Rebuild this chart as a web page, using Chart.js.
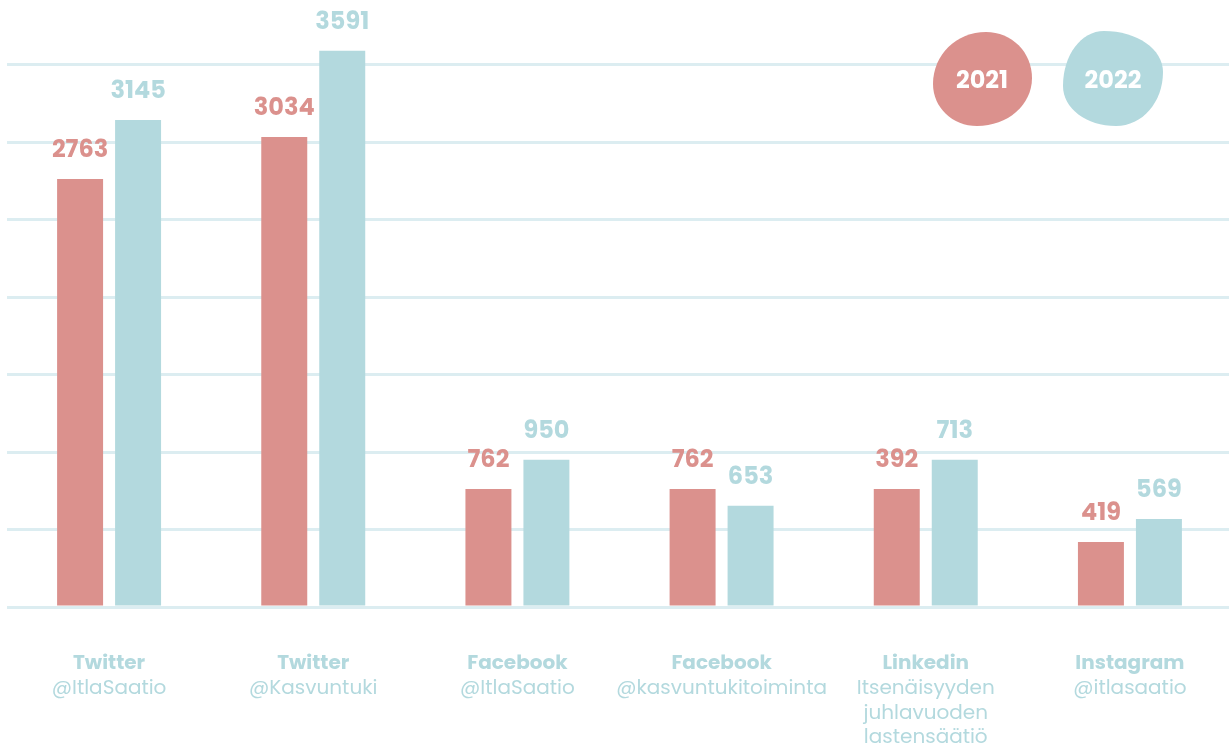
<!DOCTYPE html>
<html>
<head>
<meta charset="utf-8">
<script src="https://cdn.jsdelivr.net/npm/chart.js@4/dist/chart.umd.min.js"></script>
<style>
  html, body { margin: 0; padding: 0; background: #fff; overflow: hidden; }
  #wrap { width: 1232px; height: 746px; position: relative; }
</style>
</head>
<body>
<div id="wrap"><canvas id="mychart"></canvas></div>
<script>
// platform name (bold line) and account lines under each group
var platforms = ['Twitter', 'Twitter', 'Facebook', 'Facebook', 'Linkedin', 'Instagram'];
var accounts = [
    ['@ItlaSaatio'],
    ['@Kasvuntuki'],
    ['@ItlaSaatio'],
    ['@kasvuntukitoiminta'],
    ['Itsenäisyyden', 'juhlavuoden', 'lastensäätiö'],
    ['@itlasaatio']
];
var years = ['2021', '2022'];

// numbers printed above the bars
var labels2021 = [2763, 3034, 762, 762, 392, 419];
var labels2022 = [3145, 3591, 950, 653, 713, 569];

// bar heights as drawn in the picture (the Linkedin bars are drawn at the Facebook heights)
var bars2021 = [2763, 3034, 762, 762, 762, 419];
var bars2022 = [3145, 3591, 950, 653, 950, 569];

var yTicks = [0, 500, 1000, 1500, 2000, 2500, 3000, 3500];

var RED = '#db918d';
var BLUE = '#b3d9de';
var GRID = '#dcedf1';
var FONT = 'Poppins, Inter, sans-serif';

var valueLabels = {
    id: 'valueLabels',
    afterDatasetsDraw: function(chart) {
        var ctx = chart.ctx;
        ctx.save();
        ctx.font = 'bold 24px ' + FONT;
        ctx.textAlign = 'center';
        ctx.textBaseline = 'alphabetic';
        chart.data.datasets.forEach(function(ds, di) {
            var meta = chart.getDatasetMeta(di);
            ctx.fillStyle = ds.backgroundColor;
            meta.data.forEach(function(bar, i) {
                ctx.fillText(String(ds.shownValues[i]), bar.x, bar.y - 22);
            });
        });
        ctx.restore();
    }
};

var categoryLabels = {
    id: 'categoryLabels',
    afterDraw: function(chart) {
        var ctx = chart.ctx;
        var x = chart.scales.x;
        ctx.save();
        ctx.textAlign = 'center';
        ctx.textBaseline = 'alphabetic';
        ctx.fillStyle = BLUE;
        platforms.forEach(function(p, i) {
            var px = x.getPixelForValue(i);
            ctx.font = 'bold 20px ' + FONT;
            ctx.fillText(p, px, 669);
            ctx.font = '20px ' + FONT;
            accounts[i].forEach(function(line, k) {
                ctx.fillText(line, px, 694 + k * 24.5);
            });
        });
        ctx.restore();
    }
};

// blob legend in the top right corner
function blob(ctx, t, r, b, l) {
    var k = 0.56;
    ctx.beginPath();
    ctx.moveTo(t[0], t[1]);
    ctx.bezierCurveTo(t[0] + k * (r[0] - t[0]), t[1], r[0], r[1] - k * (r[1] - t[1]), r[0], r[1]);
    ctx.bezierCurveTo(r[0], r[1] + k * (b[1] - r[1]), b[0] + k * (r[0] - b[0]), b[1], b[0], b[1]);
    ctx.bezierCurveTo(b[0] - k * (b[0] - l[0]), b[1], l[0], l[1] + k * (b[1] - l[1]), l[0], l[1]);
    ctx.bezierCurveTo(l[0], l[1] - k * (l[1] - t[1]), t[0] - k * (t[0] - l[0]), t[1], t[0], t[1]);
    ctx.closePath();
    ctx.fill();
}

var blobLegend = {
    id: 'blobLegend',
    afterDraw: function(chart) {
        var ctx = chart.ctx;
        ctx.save();
        ctx.fillStyle = RED;
        blob(ctx, [986, 32], [1032, 78], [977, 126], [933, 84]);
        ctx.fillStyle = BLUE;
        blob(ctx, [1104, 31], [1163, 72], [1116, 126], [1063, 86]);
        ctx.fillStyle = '#ffffff';
        ctx.font = 'bold 24px ' + FONT;
        ctx.textAlign = 'center';
        ctx.textBaseline = 'middle';
        ctx.fillText(years[0], 982, 82);
        ctx.fillText(years[1], 1113, 82);
        ctx.restore();
    }
};

var canvas = document.getElementById('mychart').getContext('2d');

var myChart = new Chart(canvas, {
    type: 'bar',
    data: {
        labels: platforms,
        datasets: [
            {
                label: years[0],
                data: bars2021,
                shownValues: labels2021,
                backgroundColor: RED,
                categoryPercentage: 0.568,
                barPercentage: 0.793
            },
            {
                label: years[1],
                data: bars2022,
                shownValues: labels2022,
                backgroundColor: BLUE,
                categoryPercentage: 0.568,
                barPercentage: 0.793
            }
        ]
    },
    options: {
        responsive: true,
        maintainAspectRatio: false,
        animation: false,
        layout: { padding: { left: 7, right: 0, top: 3, bottom: 139 } },
        plugins: {
            legend: { display: false },
            tooltip: { enabled: false }
        },
        scales: {
            x: {
                display: false
            },
            y: {
                min: 0,
                max: 3900,
                afterBuildTicks: function(axis) {
                    axis.ticks = yTicks.map(function(v) { return { value: v }; });
                },
                ticks: { display: false },
                border: { display: false },
                grid: {
                    color: GRID,
                    lineWidth: 3,
                    drawTicks: false
                }
            }
        }
    },
    plugins: [valueLabels, categoryLabels, blobLegend]
});
</script>
</body>
</html>
